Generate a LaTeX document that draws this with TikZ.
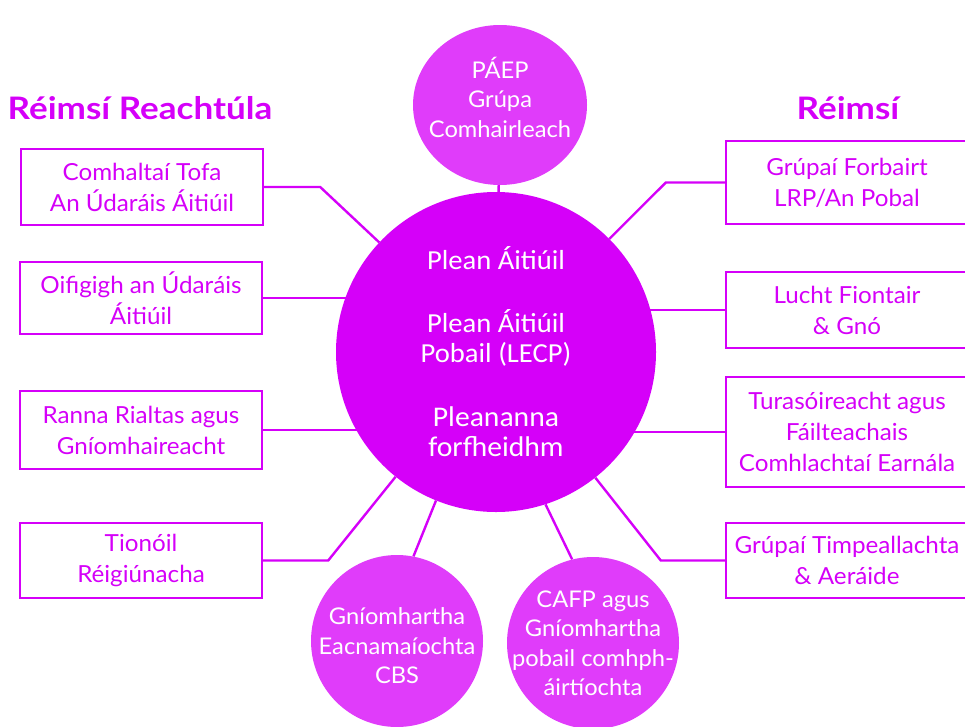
\documentclass[tikz,border=0pt]{standalone}
\usepackage{fontspec}
\setmainfont{Lato}[FakeStretch=1.03]
\newfontfamily\calfont{Carlito}[FakeStretch=1.04]
\newfontfamily\titlefont{Lato}[FakeStretch=1.13]
\usetikzlibrary{backgrounds,shapes.geometric}
\definecolor{mag}{HTML}{D500F9}
\definecolor{lmag}{HTML}{E03CFA}
\begin{document}
\begin{tikzpicture}[x=1pt,y=-1pt,
  box/.style={draw=mag, line width=2.4pt, text=mag, align=center,
    font=\fontsize{23.5}{31}\selectfont, minimum width=242pt, inner sep=0pt},
  link/.style={draw=mag, line width=2.4pt},
  bub/.style={circle, fill=lmag, inner sep=0pt, minimum size=172pt},
  bubtext/.style={text=white, align=center, inner sep=0pt, font=\fontsize{23}{29.5}\selectfont},
  title/.style={text=mag, font=\titlefont\fontsize{31}{34}\selectfont\bfseries}]
\useasboundingbox (0,0) rectangle (965,726);
\clip (0,0) rectangle (965,726);

\node[title] (t1) at (140,108) {Réimsí Reachtúla};
\node[title] (t2) at (848,108) {Réimsí};

\node[circle, fill=mag, minimum size=320pt, inner sep=0pt, text=white, align=center,
  font=\calfont\fontsize{27.5}{30}\selectfont] (main) at (496,352)
  {Plean Áitiúil\\[33pt]Plean Áitiúil\\Pobail (LECP)\\[34pt]\fontsize{28.5}{30}\selectfont Pleananna\\\fontsize{28.5}{30}\selectfont forfheidhm};

\node[ellipse, fill=lmag, inner sep=0pt, minimum width=174pt, minimum height=160pt]
  (paep) at (500,105) {};
\node[bubtext] (paept) at (500,97) {PÁEP\\Grúpa\\Comhairleach};

\node[bub] (c1) at (397,641) {};
\node[bubtext] (c1t) at (397,646) {Gníomhartha\\Eacnamaíochta\\CBS};
\node[bub] (c2) at (593,643) {};
\node[bubtext] (c2t) at (593,643) {CAFP agus\\Gníomhartha\\pobail comhph-\\áirtíochta};

\node[box, minimum height=76pt] (b1) at (142,187) {Comhaltaí Tofa\\An Údaráis Áitiúil};
\node[box, minimum height=72pt] (b2) at (141,298) {Oifigigh an Údaráis\\Áitiúil};
\node[box, minimum height=78pt] (b3) at (141,430) {Ranna Rialtas agus\\Gníomhaireacht};
\node[box, minimum height=75pt] (b4) at (141,560.5) {Tionóil\\Réigiúnacha};

\node[box, minimum height=83pt] (r1) at (847,182.5) {Grúpaí Forbairt\\LRP/An Pobal};
\node[box, minimum height=76pt] (r2) at (847,310) {Lucht Fiontair\\\& Gnó};
\node[box, minimum height=110pt] (r3) at (847,432) {Turasóireacht agus\\Fáilteachais\\Comhlachtaí Earnála};
\node[box, minimum height=75pt] (r4) at (847,560.5) {Grúpaí Timpeallachta\\\& Aeráide};

\begin{scope}[on background layer]
\draw[link] (b1.east) -- ++(56,0) -- (main);
\draw[link] (b2.east) -- (main.center |- b2.east);
\draw[link] (b3.east) -- (main.center |- b3.east);
\draw[link] (b4.east) -- ++(65,0) -- (main);
\draw[link] (r1.west) -- ++(-59,0) -- (main);
\draw[link] (r2.west) -- (main.center |- r2.west);
\draw[link] (r3.west) -- (main.center |- r3.west);
\draw[link] (r4.west) -- ++(-64,0) -- (main);
\draw[link] (paep) -- (main);
\draw[link] (main.-112) -- (c1.79);
\draw[link] (main.-72) -- (c2.104);
\end{scope}
\end{tikzpicture}
\end{document}
